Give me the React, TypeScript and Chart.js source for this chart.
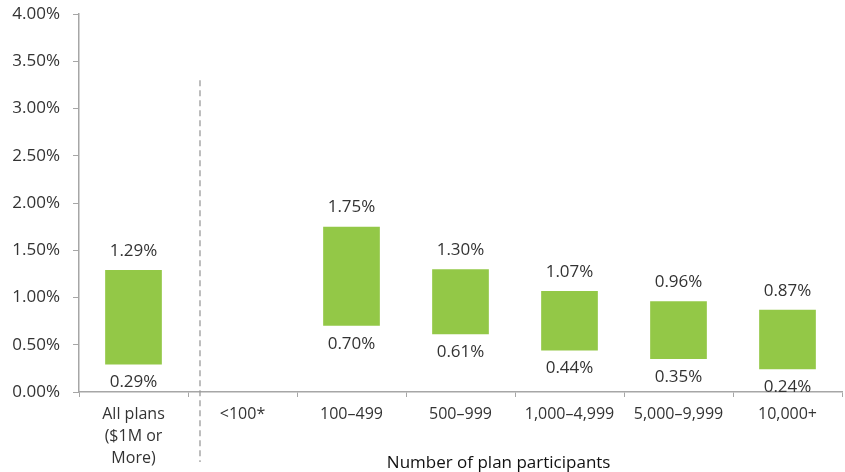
import React, { useEffect, useRef } from "react";
import { Chart, registerables } from "chart.js";

Chart.register(...registerables);

const categories: (string | string[])[] = [
  ["All plans", "($1M or", "More)"],
  "<100*",
  "100–499",
  "500–999",
  "1,000–4,999",
  "5,000–9,999",
  "10,000+",
];
const lowValues: (number | null)[] = [0.29, null, 0.70, 0.61, 0.44, 0.35, 0.24];
const highValues: (number | null)[] = [1.29, null, 1.75, 1.30, 1.07, 0.96, 0.87];
const yTicks = [0, 0.5, 1, 1.5, 2, 2.5, 3, 3.5, 4];
const xTitle = "Number of plan participants";

const FONT = "'Open Sans', 'Noto Sans', sans-serif";
const TEXT = "#333333";
const AXIS = "#a6a6a6";
const GREEN = "#93c847";

export default function App() {
  const ref = useRef<HTMLCanvasElement | null>(null);

  useEffect(() => {
    document.body.style.margin = "0";
    const canvas = ref.current;
    if (!canvas) return;

    const labelsPlugin = {
      id: "rangeLabels",
      afterDatasetsDraw(chart: any) {
        const ctx = chart.ctx;
        const meta = chart.getDatasetMeta(0);
        const y = chart.scales.y;
        ctx.save();
        ctx.font = `17px ${FONT}`;
        ctx.fillStyle = TEXT;
        ctx.textAlign = "center";
        ctx.textBaseline = "middle";
        meta.data.forEach((el: any, i: number) => {
          const lo = lowValues[i];
          const hi = highValues[i];
          if (lo == null || hi == null) return;
          const x = el.x;
          ctx.fillText(hi.toFixed(2) + "%", x, y.getPixelForValue(hi) - 19);
          ctx.fillText(lo.toFixed(2) + "%", x, y.getPixelForValue(lo) + 18);
        });
        // dashed separator
        const xs = chart.scales.x;
        const p0 = xs.getPixelForValue(0);
        const p1 = xs.getPixelForValue(1);
        const dx = p0 + 0.61 * (p1 - p0);
        ctx.strokeStyle = "#9a9a9a";
        ctx.lineWidth = 1.3;
        ctx.setLineDash([6, 4]);
        ctx.beginPath();
        ctx.moveTo(dx, y.getPixelForValue(3.3));
        ctx.lineTo(dx, chart.height - 10);
        ctx.stroke();
        ctx.setLineDash([]);
        // x axis title
        ctx.font = `17px ${FONT}`;
        ctx.fillStyle = "#111";
        ctx.textBaseline = "middle";
        ctx.fillText(xTitle, xs.left + 0.55 * (xs.right - xs.left), 463);
        ctx.restore();
      },
    };

    const chart = new Chart(canvas, {
      type: "bar",
      data: {
        labels: categories as any,
        datasets: [
          {
            data: lowValues.map((lo, i) =>
              lo == null || highValues[i] == null ? null : [lo, highValues[i] as number]
            ) as any,
            backgroundColor: GREEN,
            borderWidth: 0,
            barPercentage: 0.52,
            categoryPercentage: 1,
          },
        ],
      },
      options: {
        responsive: false,
        animation: false,
        maintainAspectRatio: false,
        layout: { padding: { top: 14, right: 3, left: 0, bottom: 0 } },
        plugins: {
          legend: { display: false },
          tooltip: { enabled: false },
        },
        scales: {
          x: {
            offset: true,
            border: { color: AXIS, width: 1.5 },
            grid: {
              display: true,
              drawOnChartArea: false,
              drawTicks: true,
              tickLength: 5,
              offset: true,
              color: AXIS,
            },
            ticks: {
              color: TEXT,
              font: { family: FONT, size: 16, lineHeight: 1.35 },
              padding: 7,
              maxRotation: 0,
              autoSkip: false,
            },
            afterFit(scale: any) {
              scale.height = 80;
              scale.paddingLeft = 0;
              scale.paddingRight = 0;
            },
          },
          y: {
            min: 0,
            max: 4,
            border: { color: AXIS, width: 1.5 },
            grid: {
              display: true,
              drawOnChartArea: false,
              drawTicks: true,
              tickLength: 6,
              color: AXIS,
            },
            afterBuildTicks(scale: any) {
              scale.ticks = yTicks.map((v) => ({ value: v }));
            },
            ticks: {
              color: TEXT,
              font: { family: FONT, size: 17 },
              padding: 13,
              callback: (v: any) => Number(v).toFixed(2) + "%",
            },
            afterFit(scale: any) {
              scale.width = 79;
              scale.paddingTop = 0;
              scale.paddingBottom = 0;
            },
          },
        },
      },
      plugins: [labelsPlugin],
    });
    return () => chart.destroy();
  }, []);

  return (
    <div style={{ width: 845, height: 472 }}>
      <canvas ref={ref} width={845} height={472} style={{ display: "block" }} />
    </div>
  );
}
